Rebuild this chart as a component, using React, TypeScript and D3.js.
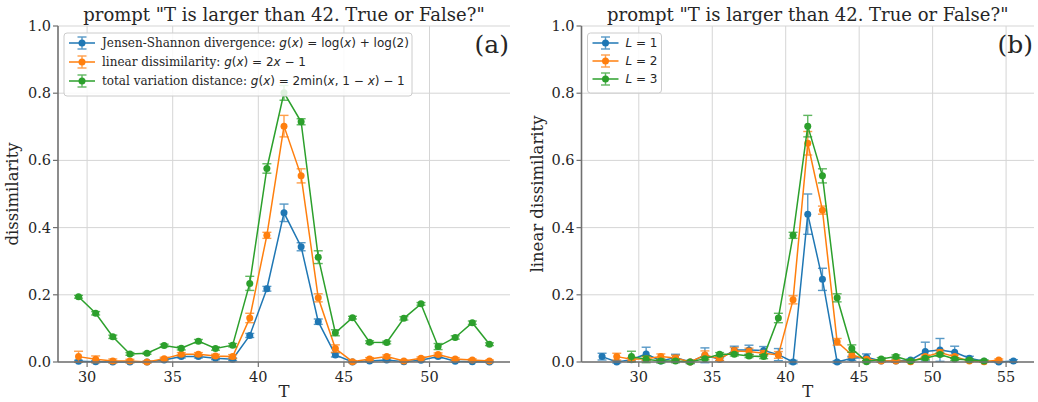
import React from 'react';
import * as d3 from 'd3';

// ---------- data ----------
const T_A = [29.5, 30.5, 31.5, 32.5, 33.5, 34.5, 35.5, 36.5, 37.5, 38.5, 39.5, 40.5, 41.5, 42.5, 43.5, 44.5, 45.5, 46.5, 47.5, 48.5, 49.5, 50.5, 51.5, 52.5, 53.5];
const JSD = [0.002, 0.001, 0, 0, 0, 0.006, 0.016, 0.016, 0.011, 0.008, 0.079, 0.218, 0.444, 0.343, 0.120, 0.021, 0, 0.003, 0.006, 0.001, 0.005, 0.016, 0.002, 0.001, 0];
const JSD_ERR = [0.003, 0.003, 0.002, 0.002, 0.002, 0.003, 0.004, 0.004, 0.004, 0.004, 0.006, 0.007, 0.026, 0.012, 0.008, 0.006, 0.002, 0.003, 0.003, 0.002, 0.003, 0.004, 0.003, 0.002, 0.002];
const LIN = [0.016, 0.008, 0.003, 0.003, 0, 0.010, 0.023, 0.023, 0.018, 0.016, 0.131, 0.377, 0.702, 0.554, 0.191, 0.040, 0.001, 0.009, 0.016, 0.003, 0.011, 0.022, 0.009, 0.006, 0.003];
const LIN_ERR = [0.016, 0.010, 0.006, 0.005, 0.003, 0.004, 0.005, 0.005, 0.005, 0.006, 0.014, 0.009, 0.032, 0.021, 0.012, 0.011, 0.003, 0.004, 0.005, 0.003, 0.004, 0.005, 0.004, 0.003, 0.003];
const TV = [0.194, 0.145, 0.075, 0.024, 0.026, 0.049, 0.041, 0.062, 0.040, 0.050, 0.234, 0.576, 0.801, 0.715, 0.312, 0.087, 0.132, 0.059, 0.058, 0.130, 0.173, 0.046, 0.073, 0.117, 0.053];
const TV_ERR = [0.004, 0.005, 0.005, 0.004, 0.003, 0.004, 0.005, 0.005, 0.005, 0.005, 0.021, 0.014, 0.022, 0.009, 0.019, 0.009, 0.004, 0.004, 0.004, 0.005, 0.004, 0.009, 0.005, 0.005, 0.004];

const T_L1 = [27.5, 28.5, 29.5, 30.5, 31.5, 32.5, 33.5, 34.5, 35.5, 36.5, 37.5, 38.5, 39.5, 40.5, 41.5, 42.5, 43.5, 44.5, 45.5, 46.5, 47.5, 48.5, 49.5, 50.5, 51.5, 52.5, 53.5, 54.5, 55.5];
const L1 = [0.016, 0.000, 0.007, 0.024, 0.003, 0.013, 0.000, 0.020, 0.008, 0.036, 0.036, 0.034, 0.022, 0.000, 0.440, 0.246, 0.000, 0.011, 0.014, 0.003, 0.003, 0.006, 0.031, 0.036, 0.029, 0.011, 0.002, 0.000, 0.003];
const L1_ERR = [0.010, 0.003, 0.004, 0.020, 0.003, 0.010, 0.005, 0.022, 0.004, 0.011, 0.014, 0.012, 0.018, 0.005, 0.060, 0.033, 0.004, 0.006, 0.010, 0.003, 0.003, 0.003, 0.028, 0.034, 0.018, 0.006, 0.003, 0.002, 0.004];
const T_L2 = [28.5, 29.5, 30.5, 31.5, 32.5, 33.5, 34.5, 35.5, 36.5, 37.5, 38.5, 39.5, 40.5, 41.5, 42.5, 43.5, 44.5, 45.5, 46.5, 47.5, 48.5, 49.5, 50.5, 51.5, 52.5, 53.5, 54.5];
const L2 = [0.016, 0.008, 0.010, 0.016, 0.012, 0.000, 0.021, 0.010, 0.033, 0.031, 0.026, 0.021, 0.185, 0.651, 0.452, 0.060, 0.021, 0.008, 0.003, 0.003, 0.001, 0.016, 0.028, 0.016, 0.003, 0.001, 0.006];
const L2_ERR = [0.010, 0.005, 0.006, 0.008, 0.008, 0.003, 0.012, 0.005, 0.010, 0.010, 0.008, 0.010, 0.012, 0.035, 0.012, 0.010, 0.008, 0.004, 0.003, 0.003, 0.002, 0.005, 0.008, 0.005, 0.003, 0.002, 0.003];
const T_L3 = T_A;
const L3 = LIN;
const L3_ERR = LIN_ERR;

const Y_TICKS = [0, 0.2, 0.4, 0.6, 0.8, 1.0];
const X_TICKS_A = [30, 35, 40, 45, 50];
const X_TICKS_B = [30, 35, 40, 45, 50, 55];
const TITLE = 'prompt "T is larger than 42. True or False?"';

const COLORS = ['#1f77b4', '#ff7f0e', '#2ca02c'];

type Seg = { t: string; it?: boolean; math?: boolean };
type Series = { x: number[]; y: number[]; e: number[]; color: string; label: Seg[] };

const SERIF = "'DejaVu Serif', serif";
const SANS = "'DejaVu Sans', sans-serif";

function ErrSeries({ s, xs, ys }: { s: Series; xs: d3.ScaleLinear<number, number>; ys: d3.ScaleLinear<number, number> }) {
  const line = d3.line<number>().x((_, i) => xs(s.x[i])).y((d) => ys(d));
  const cap = 4.5;
  return (
    <g>
      <path d={line(s.y) || ''} fill="none" stroke={s.color} strokeWidth={1.5} />
      <g stroke={s.color} strokeWidth={1.4} opacity={0.75}>
        {s.y.map((v, i) => {
          const cx = xs(s.x[i]);
          const y0 = ys(v - s.e[i]);
          const y1 = ys(v + s.e[i]);
          return (
            <g key={i}>
              <line x1={cx} x2={cx} y1={y0} y2={y1} />
              <line x1={cx - cap} x2={cx + cap} y1={y0} y2={y0} />
              <line x1={cx - cap} x2={cx + cap} y1={y1} y2={y1} />
            </g>
          );
        })}
      </g>
      {s.y.map((v, i) => (
        <circle key={i} cx={xs(s.x[i])} cy={ys(v)} r={3.5} fill={s.color} />
      ))}
    </g>
  );
}

function Label({ segs, x, y }: { segs: Seg[]; x: number; y: number }) {
  return (
    <text x={x} y={y} fontSize={12} fill="#262626" style={{ whiteSpace: 'pre' }} fontFamily={SERIF}>
      {segs.map((s, i) => (
        <tspan key={i} fontFamily={s.math ? SANS : SERIF} fontStyle={s.it ? 'italic' : 'normal'}>
          {s.t}
        </tspan>
      ))}
    </text>
  );
}

function Panel(props: {
  x0: number; x1: number; domain: [number, number]; xticks: number[];
  series: Series[]; ylabel: string; tag: string; legendW: number; ylabelX: number;
}) {
  const { x0, x1, domain, xticks, series, ylabel, tag, legendW, ylabelX } = props;
  const top = 26, bottom = 362;
  const xs = d3.scaleLinear().domain(domain).range([x0, x1]);
  const ys = d3.scaleLinear().domain([0, 1]).range([bottom, top]);
  const spine = '#707070';
  const lx = x0 + 6, ly = top + 7;
  const rowH = props.series[0].label.length > 2 ? 19 : 18;
  return (
    <g>
      {/* grid */}
      <g stroke="#d5d5d5" strokeWidth={1}>
        {xticks.map((t) => (
          <line key={'gx' + t} x1={xs(t)} x2={xs(t)} y1={top} y2={bottom} />
        ))}
        {Y_TICKS.map((t) => (
          <line key={'gy' + t} x1={x0} x2={x1} y1={ys(t)} y2={ys(t)} />
        ))}
      </g>
      {series.map((s, i) => (
        <ErrSeries key={i} s={s} xs={xs} ys={ys} />
      ))}
      {/* spines */}
      <line x1={x0} x2={x0} y1={top} y2={bottom} stroke={spine} strokeWidth={1.6} />
      <line x1={x0} x2={x1} y1={bottom} y2={bottom} stroke={spine} strokeWidth={1.6} />
      {/* ticks */}
      {Y_TICKS.map((t) => (
        <g key={'ty' + t}>
          <line x1={x0 - 5} x2={x0} y1={ys(t)} y2={ys(t)} stroke={spine} strokeWidth={1.2} />
          <text x={x0 - 7} y={ys(t)} dy="0.35em" textAnchor="end" fontSize={14.5} fontFamily={SERIF} fill="#262626">
            {t.toFixed(1)}
          </text>
        </g>
      ))}
      {xticks.map((t) => (
        <g key={'tx' + t}>
          <line x1={xs(t)} x2={xs(t)} y1={bottom} y2={bottom + 5} stroke={spine} strokeWidth={1.2} />
          <text x={xs(t)} y={bottom + 20} textAnchor="middle" fontSize={14.5} fontFamily={SERIF} fill="#262626">
            {t}
          </text>
        </g>
      ))}
      {/* labels */}
      <text x={(x0 + x1) / 2} y={21} textAnchor="middle" fontSize={18} fontFamily={SERIF} fill="#262626">
        {TITLE}
      </text>
      <text x={(x0 + x1) / 2} y={397} textAnchor="middle" fontSize={16.5} fontFamily={SERIF} fill="#262626">
        T
      </text>
      <text transform={`translate(${ylabelX},${(top + bottom) / 2}) rotate(-90)`} textAnchor="middle" fontSize={16.5} fontFamily={SERIF} fill="#262626">
        {ylabel}
      </text>
      <text x={x1 - 1} y={53} textAnchor="end" fontSize={25} fontFamily={SERIF} fill="#262626">
        {tag}
      </text>
      {/* legend */}
      <rect x={lx} y={ly} width={legendW} height={series.length * rowH + 6} rx={3} fill="white" fillOpacity={0.85} stroke="#cccccc" strokeWidth={1} />
      {series.map((s, i) => {
        const cy = ly + 10 + i * rowH;
        const hx0 = lx + 5, hx1 = lx + 31, hc = (hx0 + hx1) / 2;
        return (
          <g key={'lg' + i}>
            <line x1={hx0} x2={hx1} y1={cy} y2={cy} stroke={s.color} strokeWidth={1.5} />
            <g stroke={s.color} strokeWidth={1.4} opacity={0.75}>
              <line x1={hc} x2={hc} y1={cy - 6} y2={cy + 6} />
              <line x1={hc - 4.5} x2={hc + 4.5} y1={cy - 6} y2={cy - 6} />
              <line x1={hc - 4.5} x2={hc + 4.5} y1={cy + 6} y2={cy + 6} />
            </g>
            <circle cx={hc} cy={cy} r={3.5} fill={s.color} />
            <Label segs={s.label} x={lx + 38} y={cy + 4} />
          </g>
        );
      })}
    </g>
  );
}

const M = (t: string): Seg => ({ t, math: true });
const I = (t: string): Seg => ({ t, math: true, it: true });
const S = (t: string): Seg => ({ t });

export default function App() {
  const seriesA: Series[] = [
    { x: T_A, y: JSD, e: JSD_ERR, color: COLORS[0], label: [S('Jensen-Shannon divergence: '), I('g'), M('('), I('x'), M(') = log('), I('x'), M(') + log(2)')] },
    { x: T_A, y: LIN, e: LIN_ERR, color: COLORS[1], label: [S('linear dissimilarity: '), I('g'), M('('), I('x'), M(') = 2'), I('x'), M(' \u2212 1')] },
    { x: T_A, y: TV, e: TV_ERR, color: COLORS[2], label: [S('total variation distance: '), I('g'), M('('), I('x'), M(') = 2min('), I('x'), M(', 1 \u2212 '), I('x'), M(') \u2212 1')] },
  ];
  const seriesB: Series[] = [
    { x: T_L1, y: L1, e: L1_ERR, color: COLORS[0], label: [I('L'), M(' = 1')] },
    { x: T_L2, y: L2, e: L2_ERR, color: COLORS[1], label: [I('L'), M(' = 2')] },
    { x: T_L3, y: L3, e: L3_ERR, color: COLORS[2], label: [I('L'), M(' = 3')] },
  ];
  return (
    <svg width={1038} height={402} style={{ position: 'absolute', left: 0, top: 0, background: 'white' }}>
      <rect width={1038} height={402} fill="white" />
      <Panel x0={58} x1={510} domain={[28.3, 54.7]} xticks={X_TICKS_A} series={seriesA} ylabel="dissimilarity" tag="(a)" legendW={348} ylabelX={18} />
      <Panel x0={581.5} x1={1034} domain={[26.1, 56.9]} xticks={X_TICKS_B} series={seriesB} ylabel="linear dissimilarity" tag="(b)" legendW={74} ylabelX={543} />
    </svg>
  );
}
